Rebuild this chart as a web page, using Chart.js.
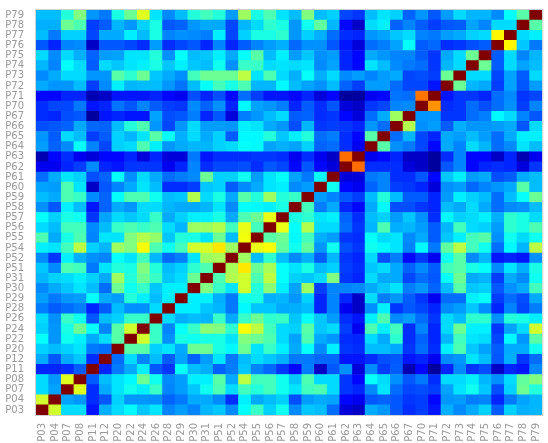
<!DOCTYPE html>
<html>
<head>
<meta charset="utf-8">
<script src="https://cdn.jsdelivr.net/npm/chart.js@4"></script>
<style>
html,body{margin:0;padding:0;background:#fff;width:548px;height:443px;overflow:hidden}
canvas{display:block;filter:blur(0.5px)}
</style>
</head>
<body>
<canvas id="c" width="548" height="443"></canvas>
<script>
const columnLabels = ["P03","P04","P07","P08","P11","P12","P20","P22","P24","P26","P28","P29","P30","P31","P51","P52","P54","P55","P56","P57","P58","P59","P60","P61","P62","P63","P64","P65","P66","P67","P70","P71","P72","P73","P74","P75","P76","P77","P78","P79"];
const rowLabels = columnLabels.slice().reverse();

const P79 = [.33,.33,.43,.52,.27,.22,.42,.5,.62,.37,.25,.33,.43,.46,.43,.28,.55,.42,.47,.37,.33,.52,.33,.35,.14,.12,.33,.37,.35,.18,.27,.16,.28,.36,.32,.32,.25,.4,.48,1];
const P78 = [.31,.31,.5,.47,.13,.17,.32,.27,.35,.42,.16,.18,.27,.3,.3,.14,.32,.36,.44,.42,.27,.41,.49,.32,.08,.05,.36,.38,.18,.24,.17,.13,.16,.17,.29,.24,.36,.36,1,.48];
const P77 = [.33,.22,.35,.35,.14,.3,.3,.38,.33,.42,.24,.26,.25,.23,.38,.14,.35,.42,.42,.44,.27,.35,.31,.2,.11,.1,.27,.29,.34,.36,.24,.22,.28,.3,.35,.36,.66,1,.36,.38];
const P76 = [.16,.1,.24,.25,.05,.16,.16,.14,.11,.28,.11,.14,.16,.1,.24,.1,.17,.24,.28,.31,.19,.26,.26,.16,.09,.06,.2,.23,.29,.4,.17,.19,.11,.12,.15,.17,1,.66,.34,.22];
const P75 = [.36,.25,.36,.31,.18,.28,.29,.37,.37,.43,.26,.4,.33,.34,.38,.3,.4,.48,.33,.38,.28,.34,.26,.28,.1,.08,.3,.27,.24,.24,.17,.12,.3,.36,.5,1,.17,.36,.24,.32];
const P74 = [.32,.24,.4,.36,.17,.36,.34,.37,.38,.42,.34,.38,.34,.33,.41,.26,.45,.45,.36,.37,.36,.37,.25,.29,.1,.08,.37,.33,.25,.22,.2,.12,.32,.36,1,.5,.17,.36,.29,.33];
const P73 = [.25,.3,.36,.36,.27,.27,.48,.44,.5,.34,.3,.26,.46,.5,.5,.5,.58,.37,.47,.36,.31,.4,.31,.36,.25,.28,.24,.28,.3,.14,.15,.13,.5,1,.36,.36,.14,.29,.17,.36];
const P72 = [.3,.27,.27,.33,.13,.25,.38,.32,.33,.33,.27,.21,.33,.4,.46,.42,.47,.32,.32,.39,.33,.29,.26,.33,.18,.13,.28,.28,.2,.14,.14,.09,1,.5,.32,.3,.13,.29,.16,.28];
const P71 = [.08,.08,.1,.1,.04,.05,.09,.09,.09,.1,.08,.07,.15,.1,.15,.08,.2,.13,.09,.09,.08,.1,.06,.08,.03,.03,.07,.08,.21,.2,.75,1,.09,.12,.12,.1,.2,.25,.12,.14];
const P70 = [.11,.14,.14,.22,.09,.1,.21,.16,.24,.17,.13,.12,.25,.18,.26,.1,.39,.29,.27,.23,.1,.17,.11,.16,.06,.05,.12,.14,.24,.25,1,.73,.11,.12,.2,.15,.2,.26,.13,.24];
const P67 = [.11,.1,.15,.16,.03,.09,.1,.09,.09,.29,.15,.16,.23,.1,.16,.06,.23,.27,.33,.36,.17,.18,.11,.12,.08,.06,.2,.3,.55,1,.27,.27,.12,.12,.2,.23,.39,.36,.24,.16];
const P66 = [.15,.16,.18,.3,.19,.18,.33,.43,.47,.27,.14,.27,.36,.28,.28,.27,.38,.37,.3,.27,.15,.32,.12,.13,.12,.1,.27,.2,1,.57,.26,.28,.17,.31,.27,.27,.28,.3,.16,.36];
const P65 = [.27,.17,.36,.33,.13,.17,.35,.32,.37,.48,.4,.31,.36,.3,.35,.17,.39,.39,.43,.34,.38,.43,.2,.23,.11,.08,.48,1,.2,.32,.14,.1,.3,.28,.33,.28,.2,.3,.38,.38];
const P64 = [.28,.18,.25,.4,.24,.14,.35,.36,.47,.38,.27,.3,.32,.32,.35,.36,.4,.39,.29,.31,.29,.35,.18,.2,.11,.07,1,.48,.26,.22,.14,.08,.3,.24,.36,.32,.2,.25,.37,.33];
const P63 = [.04,.08,.11,.07,.06,.08,.08,.1,.06,.1,.06,.06,.22,.09,.11,.11,.11,.12,.12,.11,.07,.11,.07,.05,.76,1,.07,.08,.1,.05,.05,.03,.11,.24,.08,.08,.05,.1,.04,.07];
const P62 = [.07,.07,.1,.13,.25,.1,.09,.12,.12,.12,.07,.1,.24,.11,.14,.14,.15,.11,.16,.14,.08,.16,.08,.06,1,.76,.11,.11,.11,.06,.05,.03,.16,.24,.08,.1,.11,.1,.06,.12];
const P61 = [.2,.3,.37,.35,.15,.18,.4,.26,.36,.3,.2,.23,.25,.5,.35,.35,.41,.28,.37,.4,.29,.22,.4,1,.06,.06,.22,.24,.11,.11,.16,.08,.34,.38,.28,.3,.15,.17,.3,.33];
const P60 = [.29,.28,.47,.37,.05,.16,.24,.3,.37,.33,.11,.11,.13,.34,.35,.17,.25,.3,.37,.38,.25,.28,1,.41,.08,.07,.18,.24,.13,.12,.1,.06,.26,.28,.19,.24,.27,.3,.48,.33];
const P59 = [.33,.3,.47,.45,.25,.18,.4,.47,.47,.41,.33,.34,.57,.36,.42,.3,.48,.43,.55,.43,.45,1,.28,.24,.16,.13,.33,.43,.33,.17,.17,.1,.28,.38,.35,.33,.2,.33,.4,.5];
const P58 = [.26,.16,.38,.33,.09,.18,.3,.27,.36,.36,.32,.3,.3,.32,.37,.25,.4,.39,.38,.42,1,.46,.23,.3,.1,.08,.3,.39,.15,.15,.12,.1,.33,.3,.36,.3,.2,.25,.26,.33];
const P57 = [.4,.35,.42,.41,.12,.29,.36,.34,.36,.45,.3,.35,.38,.38,.42,.3,.47,.5,.63,1,.42,.44,.37,.38,.18,.11,.33,.35,.28,.34,.26,.11,.39,.35,.36,.38,.31,.44,.42,.36];
const P56 = [.36,.33,.46,.46,.25,.33,.45,.47,.45,.47,.36,.32,.55,.55,.57,.46,.63,.46,1,.63,.4,.57,.36,.36,.2,.12,.32,.47,.31,.32,.28,.17,.32,.46,.36,.35,.28,.44,.42,.47];
const P55 = [.47,.3,.42,.47,.24,.37,.37,.52,.57,.54,.34,.43,.42,.37,.5,.33,.64,1,.48,.5,.39,.46,.31,.28,.12,.11,.4,.36,.37,.25,.3,.17,.34,.38,.46,.48,.26,.41,.36,.41];
const P54 = [.38,.37,.46,.58,.35,.32,.55,.52,.65,.47,.41,.46,.6,.61,.67,.55,1,.63,.65,.49,.41,.49,.27,.41,.15,.12,.41,.39,.37,.24,.39,.22,.49,.58,.46,.41,.2,.39,.32,.58];
const P52 = [.25,.12,.38,.31,.26,.24,.4,.37,.46,.32,.19,.23,.37,.55,.56,1,.55,.33,.44,.33,.25,.31,.17,.32,.12,.1,.36,.15,.23,.08,.12,.07,.41,.48,.25,.32,.09,.1,.09,.26];
const P51 = [.34,.25,.47,.46,.22,.37,.43,.42,.52,.43,.33,.35,.44,.47,1,.56,.67,.5,.56,.4,.37,.42,.33,.35,.13,.11,.34,.36,.3,.18,.25,.17,.46,.48,.42,.4,.25,.37,.31,.42];
const P31 = [.32,.35,.36,.38,.35,.3,.55,.43,.5,.45,.34,.36,.5,1,.47,.57,.6,.47,.58,.4,.35,.34,.36,.52,.12,.1,.36,.3,.3,.14,.2,.16,.4,.5,.3,.32,.13,.3,.25,.41];
const P30 = [.25,.3,.34,.37,.33,.2,.5,.41,.45,.34,.38,.38,1,.52,.45,.37,.6,.43,.53,.38,.29,.55,.13,.24,.24,.25,.3,.34,.37,.23,.27,.18,.33,.48,.34,.35,.16,.26,.3,.46];
const P29 = [.28,.22,.27,.28,.4,.3,.28,.43,.38,.33,.38,1,.38,.38,.31,.22,.41,.42,.31,.32,.27,.35,.1,.24,.1,.05,.36,.23,.27,.17,.12,.07,.2,.2,.38,.4,.13,.2,.15,.3];
const P28 = [.23,.17,.2,.23,.1,.17,.33,.26,.26,.36,1,.38,.38,.34,.32,.22,.39,.34,.34,.3,.31,.33,.1,.24,.07,.05,.26,.38,.12,.16,.14,.1,.25,.28,.34,.26,.1,.24,.14,.23];
const P26 = [.36,.26,.45,.41,.16,.33,.35,.45,.45,1,.36,.31,.33,.32,.45,.3,.45,.5,.44,.45,.34,.4,.34,.28,.11,.09,.38,.47,.25,.28,.2,.12,.36,.33,.44,.44,.26,.43,.42,.38];
const P24 = [.35,.27,.42,.5,.4,.24,.48,.6,1,.45,.24,.4,.45,.53,.52,.44,.65,.58,.46,.36,.35,.48,.34,.36,.13,.07,.47,.38,.46,.11,.24,.1,.36,.5,.38,.38,.12,.29,.36,.6];
const P22 = [.4,.27,.41,.38,.3,.36,.48,1,.6,.45,.26,.42,.41,.42,.42,.37,.52,.5,.47,.36,.29,.47,.3,.27,.11,.1,.36,.3,.44,.11,.18,.1,.32,.46,.37,.36,.14,.39,.27,.48];
const P20 = [.35,.33,.35,.37,.22,.2,1,.48,.48,.35,.37,.3,.5,.5,.42,.39,.5,.37,.45,.38,.3,.4,.25,.38,.12,.11,.33,.33,.3,.12,.2,.11,.38,.47,.34,.29,.17,.3,.3,.41];
const P12 = [.3,.16,.3,.34,.11,1,.2,.36,.24,.33,.17,.29,.18,.28,.37,.22,.33,.36,.34,.31,.22,.22,.19,.19,.09,.09,.11,.15,.16,.09,.1,.07,.25,.27,.37,.33,.16,.31,.12,.2];
const P11 = [.1,.1,.11,.17,1,.1,.22,.3,.38,.16,.12,.4,.33,.31,.18,.23,.34,.24,.19,.12,.08,.23,.05,.16,.26,.06,.25,.13,.17,.04,.08,.03,.1,.25,.12,.15,.05,.1,.09,.25];
const P08 = [.36,.27,.62,1,.17,.33,.37,.39,.5,.41,.25,.28,.38,.38,.48,.3,.58,.46,.46,.41,.34,.47,.36,.36,.12,.08,.4,.36,.26,.16,.22,.11,.36,.36,.38,.32,.26,.36,.49,.52];
const P07 = [.36,.29,1,.62,.11,.3,.37,.41,.38,.45,.24,.28,.34,.41,.47,.36,.46,.43,.46,.41,.37,.46,.47,.36,.12,.1,.25,.37,.2,.14,.15,.13,.29,.37,.41,.34,.15,.35,.5,.43];
const P04 = [.6,1,.29,.27,.11,.16,.35,.27,.27,.26,.18,.22,.3,.3,.25,.11,.38,.3,.33,.35,.15,.28,.3,.29,.08,.07,.16,.18,.16,.12,.13,.08,.27,.28,.23,.24,.1,.22,.29,.32];
const P03 = [1,.6,.36,.36,.09,.31,.36,.39,.34,.37,.24,.28,.24,.32,.34,.25,.4,.45,.35,.41,.25,.34,.33,.2,.06,.05,.3,.27,.16,.11,.13,.09,.31,.25,.3,.35,.17,.35,.31,.32];

const rowsBottomUp = [P03,P04,P07,P08,P11,P12,P20,P22,P24,P26,P28,P29,P30,P31,P51,P52,P54,P55,P56,P57,P58,P59,P60,P61,P62,P63,P64,P65,P66,P67,P70,P71,P72,P73,P74,P75,P76,P77,P78,P79];

// colour scale: value stops mapped onto positions of the jet ramp
const scaleIn  = [0, .03, .05, .08, .1, .16, .25, .33, .38, .45, .5, .6, .65, .75, 1];
const scaleOut = [0, .03, .07, .13, .16, .21, .26, .31, .36, .43, .48, .58, .62, .76, 1];
function ramp(v){
  for(let i=1;i<scaleIn.length;i++){
    if(v<=scaleIn[i]){
      const t=(v-scaleIn[i-1])/(scaleIn[i]-scaleIn[i-1]);
      return scaleOut[i-1]+t*(scaleOut[i]-scaleOut[i-1]);
    }
  }
  return 1;
}
function jet(v0){
  const v = ramp(v0);
  const c = x => Math.round(255*Math.max(0,Math.min(1,1.5-Math.abs(x))));
  return `rgb(${c(4*v-3)},${c(4*v-2)},${c(4*v-1)})`;
}

const frame = {
  id:'frame',
  afterDatasetsDraw(chart){
    const a = chart.chartArea, g = chart.ctx;
    g.save();
    g.strokeStyle = '#d0d0d0';
    g.lineWidth = 1;
    g.strokeRect(a.left-.5, a.top-.5, a.right-a.left+1, a.bottom-a.top+1);
    g.restore();
  }
};

new Chart(document.getElementById('c'), {
  type:'bar',
  data:{
    labels: columnLabels,
    datasets: rowsBottomUp.map((row,k)=>({
      label: columnLabels[k],
      data: row.map(()=>1),
      backgroundColor: row.map(jet),
      borderWidth:0,
      barPercentage:1,
      categoryPercentage:1,
      yAxisID:'y',
      stack:'rows'
    }))
  },
  plugins:[frame],
  options:{
    responsive:false,
    animation:false,
    layout:{padding:{left:0,right:2,top:7,bottom:0}},
    plugins:{legend:{display:false},tooltip:{enabled:false},title:{display:false}},
    scales:{
      x:{
        stacked:true,
        grid:{display:false},
        border:{display:false},
        ticks:{autoSkip:false,maxRotation:90,minRotation:90,color:'#999999',font:{family:'DejaVu Sans',size:10},padding:0},
        afterFit(s){s.height=28;}
      },
      y:{
        stacked:true,
        display:false,
        min:0,max:40
      },
      y2:{
        type:'category',
        position:'left',
        labels:rowLabels,
        offset:true,
        grid:{display:false},
        border:{display:false},
        ticks:{autoSkip:false,color:'#999999',font:{family:'DejaVu Sans',size:10},padding:4},
        afterFit(s){s.width=36;}
      }
    }
  }
});
</script>
</body>
</html>
